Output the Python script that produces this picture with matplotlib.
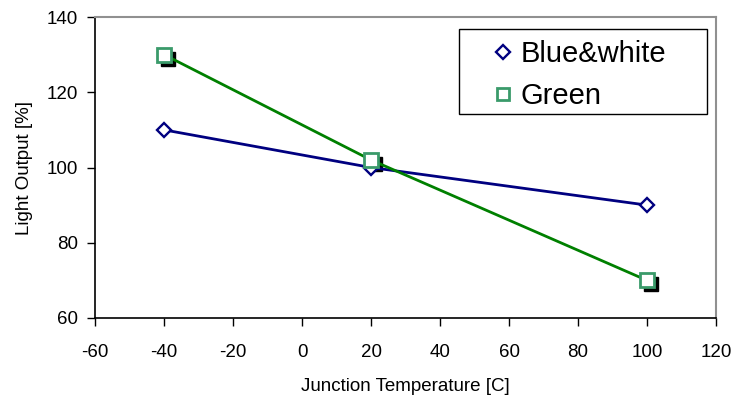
#!/usr/bin/env python3

import matplotlib
matplotlib.use("Agg")
import matplotlib.pyplot as plt
import matplotlib.patches as mpatches
import matplotlib.transforms as mtransforms

"""
Light output versus junction temperature for two LED types
"""

temps = [-40, 20, 100]
blue_white = [110, 100, 90]
green = [130, 102, 70]

xticks = [-60, -40, -20, 0, 20, 40, 60, 80, 100, 120]
yticks = [60, 80, 100, 120, 140]


def main():
    plt.rcParams["font.family"] = ["Liberation Sans", "DejaVu Sans"]
    plt.rcParams["axes.unicode_minus"] = False
    fig = plt.figure(figsize=(7.34, 4.0), dpi=100)
    ax = fig.add_axes([95 / 734, 1 - 318 / 400, 621 / 734, 301 / 400])

    # black drop shadow under the green squares
    shadow = mtransforms.offset_copy(ax.transData, fig=fig, x=4, y=-4, units="dots")
    ax.plot(temps, green, linestyle="none", marker="s", markersize=10,
            color="black", transform=shadow, zorder=2)

    ax.plot(temps, blue_white, color="#000080", linewidth=2, marker="D",
            markersize=7, markerfacecolor="white", markeredgecolor="#000080",
            markeredgewidth=1.7, label="Blue&white", zorder=3)
    ax.plot(temps, green, color="#008000", linewidth=2, marker="s",
            markersize=10, markerfacecolor="white", markeredgecolor="#3a9a6a",
            markeredgewidth=2, label="Green", zorder=4)

    ax.set_xlim(-60, 120)
    ax.set_ylim(60, 140)
    ax.set_xticks(xticks)
    ax.set_yticks(yticks)
    ax.tick_params(direction="out", length=6, width=1, labelsize=13.5)
    ax.tick_params(axis="x", pad=13)
    ax.tick_params(axis="y", pad=6)
    ax.spines["top"].set_color("#909090")
    ax.spines["right"].set_color("#909090")
    ax.spines["top"].set_linewidth(1.5)
    ax.spines["right"].set_linewidth(1.5)
    ax.spines["left"].set_linewidth(1.2)
    ax.spines["bottom"].set_linewidth(1.2)

    ax.set_xlabel("Junction Temperature [C]", fontsize=13.5, labelpad=12)
    ax.set_ylabel("Light Output [%]", fontsize=13.5, labelpad=10)

    # legend box is drawn separately so it can be wider than its contents
    box = mpatches.Rectangle((459 / 734, 1 - 114 / 400), 248 / 734, 85 / 400,
                             transform=fig.transFigure, facecolor="white",
                             edgecolor="black", linewidth=1, zorder=4.5)
    ax.add_patch(box)
    box.set_clip_on(False)

    leg = ax.legend(loc="center left", bbox_to_anchor=(474 / 734, 1 - 75 / 400),
                    bbox_transform=fig.transFigure, fontsize=21, frameon=False,
                    handlelength=1.0, handletextpad=0.1, borderpad=0,
                    labelspacing=0.48)
    for h in leg.legend_handles:
        h.set_linestyle("none")
    leg.legend_handles[1].set_markersize(9)
    leg.legend_handles[0].set_markersize(7)

    plt.savefig("out.png", dpi=100)


if __name__ == "__main__":
    main()
